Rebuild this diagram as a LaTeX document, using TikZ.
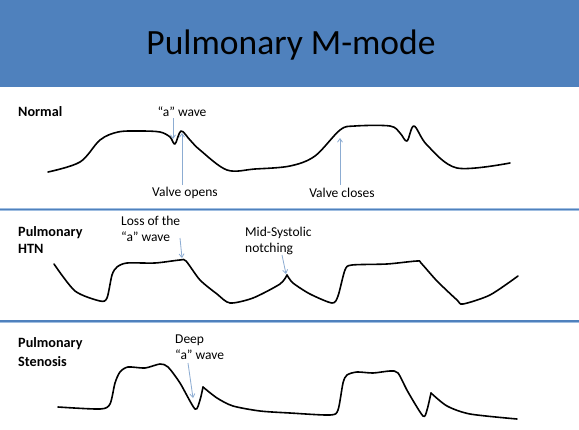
\documentclass[tikz,border=0pt]{standalone}
\usepackage{fontspec}
\setmainfont{Carlito}
\usetikzlibrary{arrows.meta}
\definecolor{titleblue}{RGB}{79,129,189}
\definecolor{sepblue}{RGB}{79,129,189}
\definecolor{sepedge}{RGB}{160,190,225}
\definecolor{arrowblue}{RGB}{140,172,210}
\tikzset{
  wave/.style={line width=1.6pt, black, line cap=round, line join=round},
  lbl/.style={font=\fontsize{13.5}{16}\selectfont, inner sep=0pt, align=left},
  rowlbl/.style={font=\fontsize{14.2}{17}\selectfont\bfseries, inner sep=0pt, align=left, anchor=west},
  note/.style={draw=arrowblue, line width=0.8pt, -{Straight Barb[length=3.5pt,width=5pt]}},
  sep/.style={line width=3pt, sepedge},
  sepcore/.style={line width=1.3pt, sepblue}
}
\begin{document}
\begin{tikzpicture}[x=1pt,y=-1pt]
\useasboundingbox (0,0) rectangle (579,429);
\fill[white] (0,0) rectangle (579,429);
% title bar
\fill[titleblue] (0,0) rectangle (579,87);
\node[font=\fontsize{35.5}{38}\selectfont, inner sep=0pt] (title) at (291,45) {Pulmonary M-mode};
% separators
\coordinate (s1a) at (0,209.5); \coordinate (s1b) at (579,209.5);
\coordinate (s2a) at (0,321); \coordinate (s2b) at (579,321);
\draw[sep] (s1a) -- (s1b); \draw[sepcore] (s1a) -- (s1b);
\draw[sep] (s2a) -- (s2b); \draw[sepcore] (s2a) -- (s2b);
% row labels
\node[rowlbl] (normal) at (18,111.5) {Normal};
\node[rowlbl] (htn) at (18,240) {Pulmonary\\HTN};
\node[rowlbl, font=\fontsize{14.2}{19}\selectfont\bfseries] (sten) at (18,352.5) {Pulmonary\\Stenosis};
% Normal waveform
\draw[wave] plot[smooth, tension=0.55] coordinates {
 (48,172) (80,162) (100,140) (118,132) (140,131) (160,132) (170,137) (175,144)
 (181,131) (190,140) (200,150) (227,170) (255,169) (290,166) (315,156) (340,130)
 (355,126) (390,126) (400,133) (407,141) (414,126) (427,145) (457,168) (510,163)};
% HTN waveform
\draw[wave] plot[smooth, tension=0.45] coordinates {
 (54,264) (75,291) (100,301) (107,298) (112,275) (117,267) (127,263) (155,263) (180,260) (186,261)
 (200,280) (217,294) (230,303) (253,298) (280,284) (287,275)};
\draw[wave] plot[smooth, tension=0.45] coordinates {
 (287,275) (293,283) (310,294) (332,303) (338,296) (345,270) (352,265) (387,264) (417,261) (421,263)
 (437,281) (457,300) (463,304) (490,295) (518,276)};
% Stenosis waveform
\draw[wave] plot[smooth, tension=0.45] coordinates {
 (58,407) (100,409) (110,404) (115,383) (120,372) (128,367) (145,368) (160,364) (168,367)
 (180,383) (195,409) (200,400) (203,387)};
\draw[wave] plot[smooth, tension=0.45] coordinates {
 (203,387) (217,398) (233,406) (260,411) (290,413) (330,415) (338,410) (343,383) (347,375) (357,372)
 (373,373) (390,371) (398,373) (408,392) (423,416) (427,410) (431,393)};
\draw[wave] plot[smooth, tension=0.45] coordinates {
 (431,393) (447,406) (470,414) (517,419)};
% annotations Normal
\node[lbl] (awave) at (182,111.5) {“a” wave};
\node[lbl] (vopen) at (185,193) {Valve opens};
\node[lbl] (vclose) at (342,193) {Valve closes};
\coordinate (awaveS) at (173,118);
\coordinate (awaveT) at (173,139);
\coordinate (vopenS) at (182,185);
\coordinate (vopenT) at (182,133);
\coordinate (vcloseS) at (340,185);
\coordinate (vcloseT) at (340,138);
\draw[note] (awaveS) -- (awaveT);
\draw[note] (vopenS) -- (vopenT);
\draw[note] (vcloseS) -- (vcloseT);
% annotations HTN
\node[lbl, anchor=west] (loss) at (121,228.5) {Loss of the\\“a” wave};
\node[lbl, anchor=west] (mids) at (245,240.5) {Mid-Systolic\\notching};
\coordinate (lossS) at (180,238);
\coordinate (lossT) at (182,258);
\coordinate (midsS) at (282,255);
\coordinate (midsT) at (286,274);
\draw[note] (lossS) -- (lossT);
\draw[note] (midsS) -- (midsT);
% annotations Stenosis
\node[lbl, anchor=west] (deep) at (175,347.5) {Deep\\“a” wave};
\coordinate (deepS) at (188,363);
\coordinate (deepT) at (193,398);
\draw[note] (deepS) -- (deepT);
\end{tikzpicture}
\end{document}
